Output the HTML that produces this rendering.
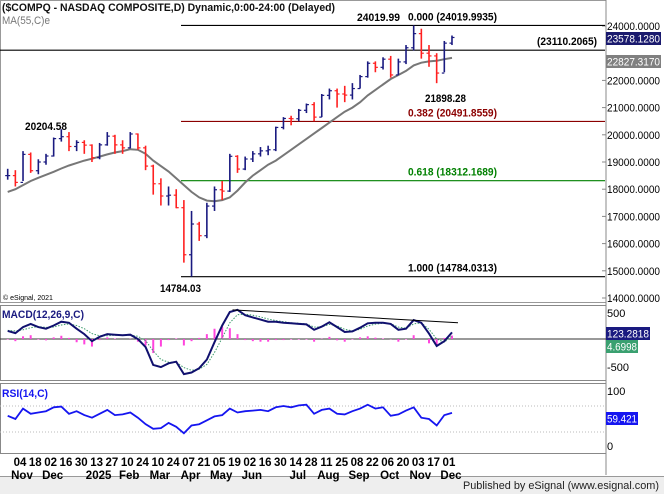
<!DOCTYPE html>
<html><head><meta charset="utf-8"><style>
html,body{margin:0;padding:0;background:#fff;width:664px;height:494px;overflow:hidden}
svg{display:block;font-family:"Liberation Sans",Arial,sans-serif}
</style></head><body>
<svg id="c" width="664" height="494" viewBox="0 0 664 494">
<rect x="0" y="0" width="664" height="494" fill="#fff"/>
<g id="grid"></g>
<g id="marks"></g>
<g id="labels"></g>
<g id="static" font-size="11">
<text x="2" y="11" font-weight="bold" fill="#111" textLength="333" lengthAdjust="spacingAndGlyphs">($COMPQ - NASDAQ COMPOSITE,D) Dynamic,0:00-24:00 (Delayed)</text>
<text x="2" y="24" fill="#777" textLength="48" lengthAdjust="spacingAndGlyphs">MA(55,C)e</text>
<text x="357" y="21" font-weight="bold" textLength="43" lengthAdjust="spacingAndGlyphs">24019.99</text>
<text x="425" y="102" font-weight="bold" textLength="41" lengthAdjust="spacingAndGlyphs">21898.28</text>
<text x="25" y="130" font-weight="bold" textLength="42" lengthAdjust="spacingAndGlyphs">20204.58</text>
<text x="160" y="292" font-weight="bold" textLength="41" lengthAdjust="spacingAndGlyphs">14784.03</text>
<text x="3" y="300" font-size="7">© eSignal, 2021</text>
<rect x="606" y="32" width="55" height="13" fill="#1a1a6e"/>
<text x="607" y="42.5" fill="#fff" textLength="53" lengthAdjust="spacingAndGlyphs">23578.1280</text>
<rect x="606" y="55" width="55" height="13" fill="#808080"/>
<text x="607" y="65.5" fill="#fff" textLength="53" lengthAdjust="spacingAndGlyphs">22827.3170</text>
<text x="2" y="318" font-weight="bold" fill="#1a1a80" textLength="82" lengthAdjust="spacingAndGlyphs">MACD(12,26,9,C)</text>
<text x="607" y="317">500</text>
<rect x="606" y="327" width="44" height="13" fill="#1a1a80"/>
<text x="607" y="337.5" fill="#fff" textLength="42" lengthAdjust="spacingAndGlyphs">123.2818</text>
<rect x="606" y="340" width="32" height="13" fill="#3aa070"/>
<text x="607" y="350.5" fill="#fff" textLength="30" lengthAdjust="spacingAndGlyphs">4.6998</text>
<text x="607" y="371">-500</text>
<text x="2" y="397" font-weight="bold" fill="#1515f0" textLength="46" lengthAdjust="spacingAndGlyphs">RSI(14,C)</text>
<text x="607" y="395">100</text>
<rect x="606" y="412" width="32" height="13" fill="#1515f0"/>
<text x="607" y="422.5" fill="#fff" textLength="30" lengthAdjust="spacingAndGlyphs">59.421</text>
<text x="607" y="450">0</text>
<text x="659" y="489" text-anchor="end" fill="#222" textLength="196" lengthAdjust="spacingAndGlyphs">Published by eSignal (www.esignal.com)</text>
</g>
</svg>
<script>
const closes=[18500,18250,19280,18680,19000,19220,19860,19930,19570,19720,19620,19160,19630,19950,19630,19520,20030,19520,18850,18200,17750,17780,17320,15590,16720,16290,17380,17980,17930,19210,18740,19110,19300,19410,19450,20270,20600,20590,20900,21110,20650,21450,21620,21500,21460,21700,22140,22630,22480,22780,22200,22680,23200,23720,23000,22900,22270,23370,23578];
const highs=[18750,18700,19400,19350,19100,19300,19900,20204,20100,19800,19800,19650,19700,20100,20000,19800,20100,20050,19600,18900,18400,18100,18000,17600,17200,16800,17500,18100,18300,19300,19250,19200,19400,19550,19600,20300,20650,20700,20950,21150,21200,21500,21700,21700,21800,21900,22200,22700,22700,22850,22900,22800,23300,24020,23900,23300,23000,23450,23650];
const lows=[18350,18100,18300,18600,18550,18900,19200,19750,19400,19400,19300,19000,19100,19600,19300,19300,19500,19450,18700,17800,17400,17400,17300,15300,14784,16100,16200,17200,17600,17900,18600,18700,19000,19200,19250,19400,20200,20350,20500,20800,20500,20650,21300,21000,21200,21300,21700,22100,22300,22400,22100,22200,22600,23100,22800,22500,21898,22300,23300];
const ma55=[17900,18000,18150,18300,18420,18530,18640,18760,18870,18960,19050,19120,19200,19280,19350,19400,19470,19450,19300,19050,18850,18650,18400,18150,17900,17700,17580,17560,17600,17700,17950,18250,18500,18700,18900,19050,19250,19450,19650,19850,20050,20250,20450,20650,20850,21000,21200,21450,21650,21850,22050,22200,22350,22550,22650,22700,22720,22780,22827];
const macd=[150,110,220,280,220,190,250,320,300,190,90,-40,40,90,80,70,80,0,-150,-480,-520,-450,-420,-650,-620,-540,-380,-60,250,500,540,440,400,360,320,320,300,290,280,270,170,230,310,220,130,140,210,290,300,300,280,170,190,350,300,100,-130,-40,123];
const signal=[160,150,170,210,230,215,220,260,280,250,190,100,60,60,70,70,75,50,-30,-220,-380,-430,-430,-530,-580,-560,-470,-250,20,300,450,460,440,410,370,340,320,300,290,280,220,225,270,245,180,150,180,240,275,290,285,220,200,280,300,180,0,-60,60];
const rsi=[55,50,66,58,60,62,68,69,58,62,56,52,58,64,56,57,60,52,42,35,36,44,38,28,40,42,48,54,56,66,60,62,63,64,62,68,70,68,71,72,58,64,66,58,57,62,66,72,66,68,55,57,63,68,52,50,40,56,59.4];
const dateLabels=["04","18","02","16","30","13","27","10","24","10","24","07","21","05","19","02","16","30","14","28","11","25","08","22","06","20","03","17","01"];
const dateDays=[0,14,28,42,56,70,84,98,112,126,140,154,168,182,196,210,224,238,252,266,280,294,308,322,336,350,364,378,392];
const monthLabels=["Nov","Dec","2025","Feb","Mar","Apr","May","Jun","Jul","Aug","Sep","Oct","Nov","Dec"];
const monthAt=[0,2,5,7,9,11,13,15,18,20,22,24,26,28];
const priceTicks=[24000,22000,21000,20000,19000,18000,17000,16000,15000,14000];
const fibVals=[24019.9935,20491.8559,18312.1689,14784.0313];
const fibText=["0.000 (24019.9935)","0.382 (20491.8559)","0.618 (18312.1689)","1.000 (14784.0313)"];
const fibColor=["#000","#8b0000","#008000","#000"];

const NS="http://www.w3.org/2000/svg";
const xW=i=>4.7+7.66*i+3;
const xD=d=>20+d*7.66/7;
const yP=v=>26+(24000-v)*0.0272;
const yM=v=>339-v*0.054;
const yR=v=>419-(v-50)*0.65;
const G=document.getElementById('grid'),M=document.getElementById('marks'),L=document.getElementById('labels');
function el(p,t,a,txt){const e=document.createElementNS(NS,t);for(const k in a)e.setAttribute(k,a[k]);if(txt!==undefined)e.textContent=txt;p.appendChild(e);return e;}

let e;
e=el(G,'rect',{x:0.5,y:0.5,width:605.5,height:302,fill:'none',stroke:'#999'});


e=el(G,'rect',{x:0.5,y:305.5,width:605.5,height:75,fill:'none',stroke:'#888'});


e=el(G,'rect',{x:0.5,y:383.5,width:605.5,height:70,fill:'none',stroke:'#888'});


el(G,'line',{x1:606,y1:0,x2:606,y2:475,stroke:'#888'});
el(G,'rect',{x:0,y:476,width:664,height:18,fill:'#eee'});
el(G,'line',{x1:0,y1:476.5,x2:664,y2:476.5,stroke:'#999'});
[70,30].forEach(v=>{el(G,'line',{x1:0,y1:yR(v),x2:606,y2:yR(v),stroke:'#bbb','stroke-dasharray':'1,2'});});
el(G,'line',{x1:0,y1:yM(0),x2:606,y2:yM(0),stroke:'#333'});

priceTicks.forEach(v=>{e=el(L,'text',{x:607,y:yP(v)+4,'font-size':11,textLength:53,lengthAdjust:'spacingAndGlyphs',fill:'#000'},v.toFixed(4));


el(G,'line',{x1:602,y1:yP(v),x2:606,y2:yP(v),stroke:'#888'});});
fibVals.forEach((v,k)=>{e=el(M,'line',{x1:181,y1:yP(v),x2:605,y2:yP(v),stroke:fibColor[k],'stroke-width':1.2});


e=el(L,'text',{x:408,y:yP(v)-5,'font-size':11,'font-weight':'bold',textLength:89,lengthAdjust:'spacingAndGlyphs',fill:fibColor[k]},fibText[k]);

});
e=el(M,'line',{x1:0,y1:yP(23110.2065),x2:605,y2:yP(23110.2065),stroke:'#000','stroke-width':1.2});


e=el(L,'text',{x:537,y:yP(23110.2065)-5,'font-size':11,'font-weight':'bold',textLength:60,lengthAdjust:'spacingAndGlyphs'},'(23110.2065)');



let d=ma55.map((v,i)=>(i?'L':'M')+xW(i).toFixed(1)+','+yP(v).toFixed(1)).join('');
e=el(M,'path',{d:d,fill:'none',stroke:'#777','stroke-width':2});


closes.forEach((c,i)=>{const o=i?closes[i-1]:c;const col=c>=o?'#1a1a80':'#ff2020';const x=xW(i);
const b=el(M,'g',{});


el(b,'line',{x1:x,y1:yP(highs[i]),x2:x,y2:yP(lows[i]),stroke:col,'stroke-width':1.6});
el(b,'line',{x1:x-2.5,y1:yP(o),x2:x,y2:yP(o),stroke:col,'stroke-width':1.2});
el(b,'line',{x1:x,y1:yP(c),x2:x+2.5,y2:yP(c),stroke:col,'stroke-width':1.2});});

macd.forEach((v,i)=>{const h=(v-signal[i]);const y0=yM(0),y1=yM(h);
e=el(M,'rect',{x:xW(i)-1,y:Math.min(y0,y1),width:2,height:Math.abs(y1-y0),fill:'#ff44dd'});

});
d=signal.map((v,i)=>(i?'L':'M')+xW(i).toFixed(1)+','+yM(v).toFixed(1)).join('');
e=el(M,'path',{d:d,fill:'none',stroke:'#3a9a6a','stroke-width':1,'stroke-dasharray':'1.5,1.5'});


d=macd.map((v,i)=>(i?'L':'M')+xW(i).toFixed(1)+','+yM(v).toFixed(1)).join('');
e=el(M,'path',{d:d,fill:'none',stroke:'#10106e','stroke-width':2});


e=el(M,'line',{x1:xW(30)-5,y1:yM(540),x2:458,y2:yM(300),stroke:'#000','stroke-width':1});


d=rsi.map((v,i)=>(i?'L':'M')+xW(i).toFixed(1)+','+yR(v).toFixed(1)).join('');
e=el(M,'path',{d:d,fill:'none',stroke:'#1515f0','stroke-width':1.8});



dateLabels.forEach((t,k)=>{e=el(L,'text',{x:xD(dateDays[k]),y:466,'font-size':11.5,'font-weight':'bold','text-anchor':'middle'},t);

});
monthLabels.forEach((t,k)=>{e=el(L,'text',{x:xD(dateDays[monthAt[k]])+2,y:479,'font-size':11.5,'font-weight':'bold','text-anchor':'middle'},t);

});
</script>
</body></html>
